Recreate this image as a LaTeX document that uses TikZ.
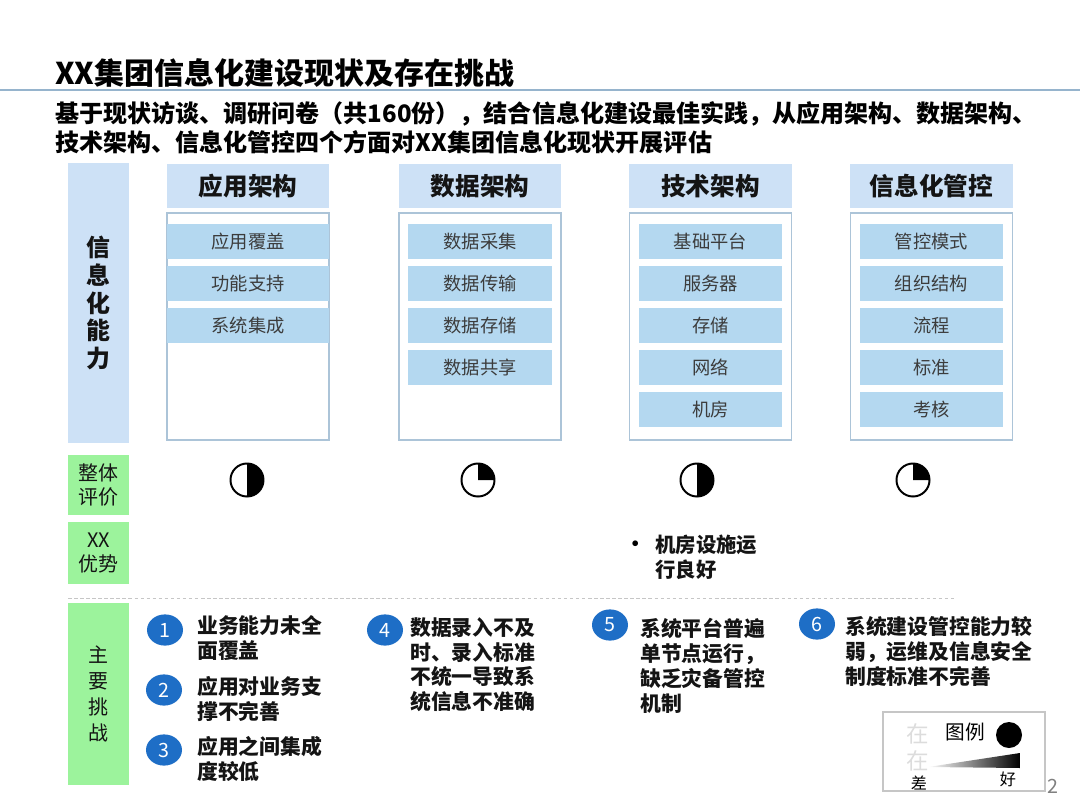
\documentclass[tikz,border=0pt]{standalone}
\usepackage{fontspec}
\setmainfont{Noto Sans CJK SC}
\usetikzlibrary{positioning,shapes.geometric,calc}
\definecolor{capHead}{RGB}{205,225,246}
\definecolor{capItem}{RGB}{180,216,240}
\definecolor{capFrame}{RGB}{172,196,216}
\definecolor{evalGreen}{RGB}{156,243,156}
\definecolor{chalBlue}{RGB}{30,110,198}
\definecolor{ruleBlue}{RGB}{150,180,205}
\definecolor{ghostGray}{RGB}{220,220,220}
\definecolor{textDark}{RGB}{20,20,20}
\definecolor{textGray}{RGB}{60,60,60}

\tikzset{
  headbox/.style={fill=capHead, minimum width=4.05cm, minimum height=1.1cm, inner sep=0pt,
    font=\fontsize{17.5}{20}\selectfont\bfseries, text=textDark},
  framebox/.style={draw=capFrame, line width=0.8pt, fill=white, minimum width=4.05cm,
    minimum height=5.675cm, inner sep=0pt},
  itembox/.style={fill=capItem, minimum height=0.875cm, inner sep=0pt,
    font=\fontsize{13}{15}\selectfont, text=textGray},
  sidebox/.style={fill=#1, minimum width=1.525cm, inner sep=0pt, align=center, text=textDark},
  ball/.style={circle, draw, line width=1.4pt, minimum size=0.825cm, inner sep=0pt, outer sep=0pt},
  numdot/.style={ellipse, fill=chalBlue, text=white, minimum width=0.9cm, minimum height=0.78cm,
    inner sep=0pt, font=\fontsize{14}{16}\selectfont},
  chaltext/.style={anchor=north west, align=left, inner sep=0pt,
    font=\fontsize{14.8}{17.7}\selectfont\bfseries, text=textDark}
}

\begin{document}
\begin{tikzpicture}[x=0.025cm,y=0.025cm]
  \useasboundingbox (0,0) rectangle (1080,-810);
  % title
  \node[anchor=west, inner sep=0pt, font=\fontsize{21.3}{24}\selectfont\bfseries] (title) at (55,-73)
    {XX集团信息化建设现状及存在挑战};
  \draw[ruleBlue, line width=1pt] (0,-90) -- (1080,-90);
  \node[anchor=north west, align=left, inner sep=0pt, font=\fontsize{17.1}{20.5}\selectfont\bfseries] (intro) at (55,-101)
    {基于现状访谈、调研问卷（共160份），结合信息化建设最佳实践，从应用架构、数据架构、\\技术架构、信息化管控四个方面对XX集团信息化现状开展评估};

  % row labels
  \node[sidebox=capHead, minimum height=7cm, font=\fontsize{17}{19.8}\selectfont\bfseries] (ability) at (98.5,-303)
    {信\\息\\化\\能\\力};
  \node[sidebox=evalGreen, minimum height=1.5cm, font=\fontsize{14.2}{17.7}\selectfont] (overall) at (98.5,-485) {整体\\评价};
  \node[sidebox=evalGreen, minimum height=1.55cm, font=\fontsize{14.2}{17.7}\selectfont] (edge) at (98.5,-553) {XX\\优势};
  \node[sidebox=evalGreen, minimum height=4.55cm, font=\fontsize{14.2}{18.4}\selectfont] (challenge) at (98.5,-694)
    {主\\要\\挑\\战};

  % columns: header, frame and items
  \foreach \cx/\nm/\ttl/\iw/\lst in {248/app/应用架构/4.025cm/{应用覆盖,功能支持,系统集成},
      480/data/数据架构/3.575cm/{数据采集,数据传输,数据存储,数据共享},
      710.5/tech/技术架构/3.575cm/{基础平台,服务器,存储,网络,机房},
      931.5/gov/信息化管控/3.575cm/{管控模式,组织结构,流程,标准,考核}} {
    \node[headbox] (\nm-h) at (\cx,-186) {\ttl};
    \node[framebox] (\nm-box) at (\cx,-326.5) {};
    \foreach \lbl [count=\k] in \lst
      \node[itembox, minimum width=\iw] (\nm-\k) at (\cx,{-241.5-42*(\k-1)}) {\lbl};
  }

  % overall rating balls
  \foreach \cx/\ea [count=\k] in {247/-90, 478/0, 697/-90, 913/0} {
    \node[ball] (ball\k) at (\cx,-480) {};
    \fill (ball\k.center) -- (ball\k.north) arc[start angle=90, end angle=\ea, radius=16.5] -- cycle;
  }

  % strengths
  \node[inner sep=0pt, font=\fontsize{14.5}{17}\selectfont\bfseries] (dot) at (636,-546) {•};
  \node[chaltext, font=\fontsize{14.5}{17.7}\selectfont\bfseries] (infra) at (655,-535) {机房设施运\\行良好};

  \draw[gray!45, dash pattern=on 2.5pt off 1.8pt] (68,-598) -- (955,-598);

  % challenges
  \foreach \n/\nx/\ny/\tx/\ty/\txt in {1/165/630/197/615/{业务能力未全\\面覆盖},
      2/164/690/197/676/{应用对业务支\\撑不完善},
      3/164/750/197/736/{应用之间集成\\度较低},
      4/385/630/410/617/{数据录入不及\\时、录入标准\\不统一导致系\\统信息不准确},
      5/610/625/640/618/{系统平台普遍\\单节点运行，\\缺乏灾备管控\\机制},
      6/817/624/845/616/{系统建设管控能力较\\弱，运维及信息安全\\制度标准不完善}} {
    \node[numdot] (num\n) at (\nx,-\ny) {\n};
    \node[chaltext] (chal\n) at (\tx,-\ty) {\txt};
  }

  % legend
  \node[draw=gray!45, line width=0.8pt, minimum width=4.05cm, minimum height=1.975cm, inner sep=0pt] (legend) at (964,-751.5) {};
  \foreach \gy [count=\k] in {734,761}
    \node[text=ghostGray, inner sep=0pt, font=\fontsize{16}{18}\selectfont] (ghost\k) at (918,-\gy) {在};
  \shade[left color=white, right color=black] (928,-767) -- (1020,-753) -- (1020,-768) -- cycle;
  \node[inner sep=0pt, font=\fontsize{14}{16}\selectfont] (legend-title) at (965,-732) {图例};
  \node[circle, fill=black, minimum size=0.65cm, inner sep=0pt] (legend-dot) at (1009,-735) {};
  \node[inner sep=0pt, font=\fontsize{11.5}{13}\selectfont] (bad) at (919,-783) {差};
  \node[inner sep=0pt, font=\fontsize{11.5}{13}\selectfont] (good) at (1008,-779) {好};
  \node[inner sep=0pt, text=gray, font=\fontsize{14}{16}\selectfont] (pageno) at (1053,-786) {2};
\end{tikzpicture}
\end{document}
